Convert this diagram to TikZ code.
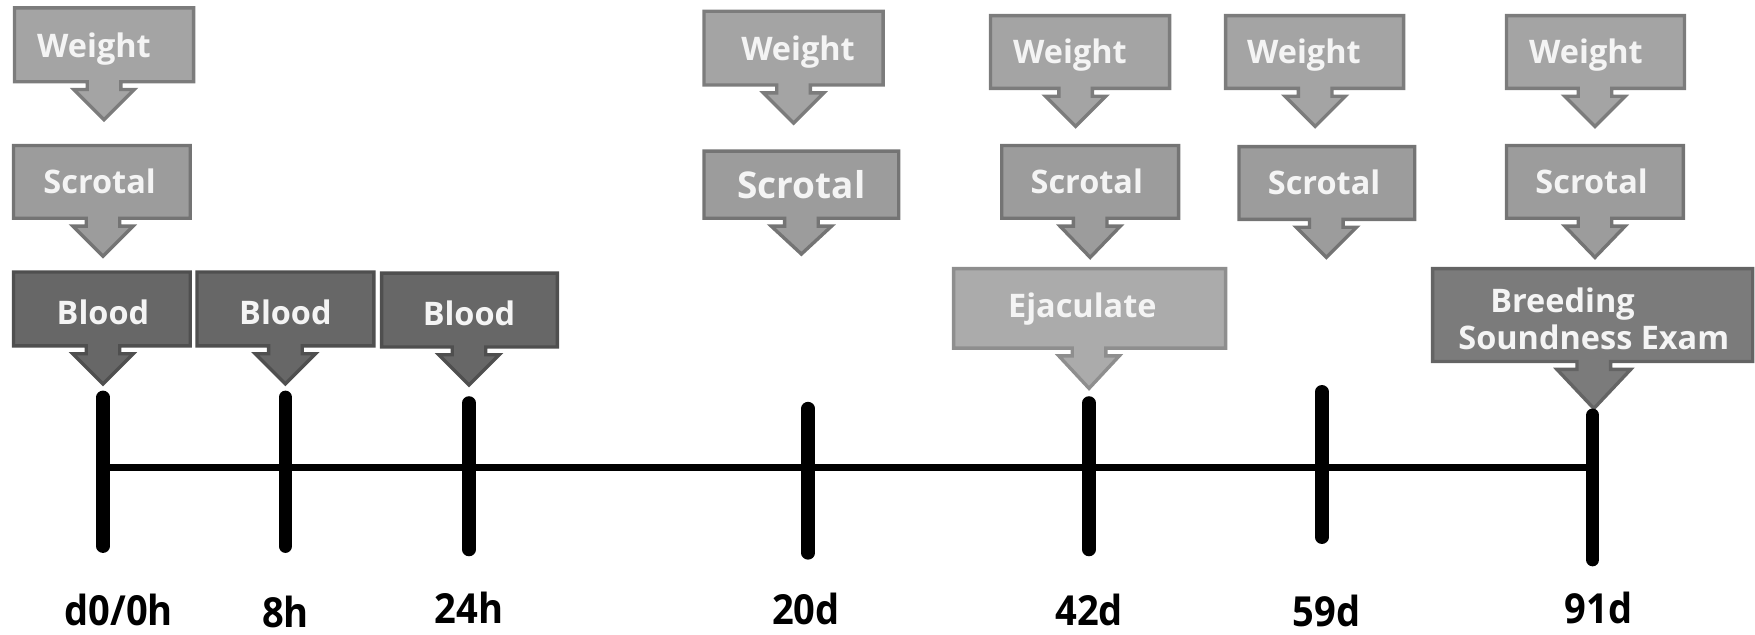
\documentclass[tikz,border=0pt]{standalone}
\usepackage{fontspec}
\setmainfont{Open Sans}
\definecolor{wfill}{HTML}{A4A4A4}
\definecolor{wdraw}{HTML}{7C7C7C}
\definecolor{sfill}{HTML}{9C9C9C}
\definecolor{sdraw}{HTML}{747474}
\definecolor{bfill}{HTML}{676767}
\definecolor{bdraw}{HTML}{4F4F4F}
\definecolor{efill}{HTML}{ABABAB}
\definecolor{edraw}{HTML}{8E8E8E}
\definecolor{xfill}{HTML}{7B7B7B}
\definecolor{xdraw}{HTML}{646464}
\definecolor{txt}{HTML}{F4F4F4}
\tikzset{
  box/.style={line width=3pt, line join=miter},
  wbox/.style={box, fill=wfill, draw=wdraw},
  sbox/.style={box, fill=sfill, draw=sdraw},
  bbox/.style={box, fill=bfill, draw=bdraw},
  ebox/.style={box, fill=efill, draw=edraw},
  xbox/.style={box, fill=xfill, draw=xdraw},
  btext/.style={text=txt, font=\bfseries\fontsize{29}{33}\selectfont, anchor=base, inner sep=0pt},
  tick/.style={line width=12pt, line cap=round, black},
  axis/.style={line width=6pt, black},
  lbl/.style={font=\bfseries\fontsize{37}{40}\selectfont, anchor=base, inner sep=0pt, text depth=0pt, xscale=0.92, text=black}
}
% #1 style, #2 x1, #3 x2, #4 y1, #5 y2, #6 arrow centre, #7 stem half, #8 head half, #9 head length
\newcommand\callout[9]{%
  \draw[#1] (#2,#4) -- (#3,#4) -- (#3,#5) -- ({#6+#7},#5) -- ({#6+#7},{#5+7})
    -- ({#6+#8},{#5+7}) -- (#6,{#5+7+#9}) -- ({#6-#8},{#5+7}) -- ({#6-#7},{#5+7})
    -- ({#6-#7},#5) -- (#2,#5) -- cycle;}
\begin{document}
\begin{tikzpicture}[x=1pt,y=-1pt]
\useasboundingbox (0,0) rectangle (1568,567);
% column 1 (d0/0h)
\callout{wbox}{13}{173}{7}{73}{93}{15}{27}{27}
\callout{sbox}{12}{170}{130}{195}{92}{15}{27}{27}
\callout{bbox}{12}{170}{243}{309}{92}{15}{27}{27}
\node[btext] (w1) at (84,51) {Weight};
\node[btext] (s1) at (89,173) {Scrotal};
\node[btext] (b1) at (92,290) {Blood};
% column 2 (8h)
\callout{bbox}{176}{334}{243}{309}{255}{15}{27}{27}
\node[btext] (b2) at (255,290) {Blood};
% column 3 (24h)
\callout{bbox}{341}{498}{244}{310}{419}{15}{27}{27}
\node[btext] (b3) at (419,291) {Blood};
% column 4 (20d)
\callout{wbox}{629}{789}{10}{76}{709}{15}{27}{27}
\callout{sbox}{629}{803}{135}{195}{716}{15}{27}{25}
\node[btext] (w4) at (713,54) {Weight};
\node[btext, font=\bfseries\fontsize{33}{36}\selectfont] (s4) at (716,177) {Scrotal};
% column 5 (42d)
\callout{wbox}{885}{1045}{14}{79}{961}{15}{27}{27}
\callout{sbox}{895}{1053}{130}{195}{974}{15}{27}{28}
\callout{ebox}{852}{1095}{240}{311}{973}{15}{27}{29}
\node[btext] (w5) at (956,57) {Weight};
\node[btext] (s5) at (971,173) {Scrotal};
\node[btext] (e5) at (967,284) {Ejaculate};
% column 6 (59d)
\callout{wbox}{1095}{1254}{14}{79}{1175}{15}{27}{27}
\callout{sbox}{1107}{1264}{131}{196}{1185}{15}{27}{27}
\node[btext] (w6) at (1165,57) {Weight};
\node[btext] (s6) at (1183,174) {Scrotal};
% column 7 (91d)
\callout{wbox}{1346}{1505}{14}{79}{1425}{15}{27}{27}
\callout{sbox}{1346}{1504}{130}{195}{1425}{15}{27}{28}
\callout{xbox}{1280}{1566}{240}{323}{1424}{15}{33}{35}
\node[btext] (w7) at (1417,57) {Weight};
\node[btext] (s7) at (1422,173) {Scrotal};
\node[btext] (x7a) at (1396,279) {Breeding};
\node[btext] (x7b) at (1424,312) {Soundness Exam};
% timeline
\coordinate (t1a) at (92,355);  \coordinate (t1b) at (92,488);  \coordinate (t1m) at (92,418);
\coordinate (t2a) at (255,355); \coordinate (t2b) at (255,488);
\coordinate (t3a) at (419,360); \coordinate (t3b) at (419,491);
\coordinate (t4a) at (722,365); \coordinate (t4b) at (722,494);
\coordinate (t5a) at (973,360); \coordinate (t5b) at (973,491);
\coordinate (t6a) at (1181,350); \coordinate (t6b) at (1181,480);
\coordinate (t7a) at (1423,371); \coordinate (t7b) at (1423,500); \coordinate (t7m) at (1423,418);
\draw[axis] (t1m) -- (t7m);
\foreach \i in {1,...,7} {\draw[tick] (t\i a) -- (t\i b);}
\node[lbl] (l1) at (106,559) {d0/0h};
\node[lbl] (l2) at (255,561) {8h};
\node[lbl] (l3) at (419,557) {24h};
\node[lbl] (l4) at (720,558) {20d};
\node[lbl] (l5) at (973,559) {42d};
\node[lbl] (l6) at (1185,560) {59d};
\node[lbl] (l7) at (1428,557) {91d};
\end{tikzpicture}
\end{document}
